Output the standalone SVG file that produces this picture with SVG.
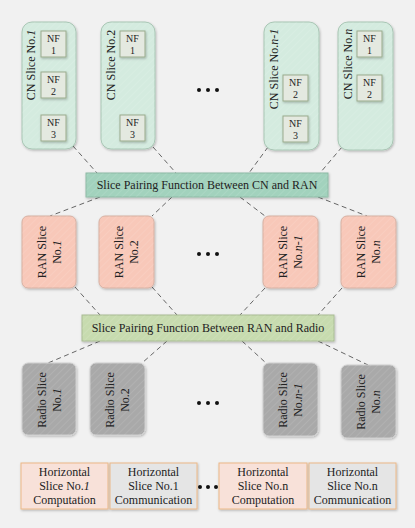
<svg xmlns="http://www.w3.org/2000/svg" width="415" height="528" viewBox="0 0 415 528">
<defs>
<pattern id="hatch" width="5" height="5" patternUnits="userSpaceOnUse" patternTransform="rotate(45)">
<line x1="0" y1="0" x2="0" y2="5" stroke="#ffffff" stroke-width="1" stroke-opacity="0.18"/>
</pattern>
<filter id="sh" x="-20%" y="-20%" width="140%" height="140%">
<feDropShadow dx="0.8" dy="1.2" stdDeviation="0.8" flood-color="#000" flood-opacity="0.25"/>
</filter>
</defs>
<style>
text{font-family:"Liberation Serif","Times New Roman",serif;font-size:12px;fill:#222;text-anchor:middle}
.nft{font-size:10px}
.cn{fill:#d4ebdf;stroke:#a8c6b4;stroke-width:1}
.nf{fill:#e4e9e0;stroke:#9aab8d;stroke-width:1}
.ran{fill:#f8c8b9;stroke:#d6b0a2;stroke-width:1}
.rad{fill:#a9a9a9;stroke:#cfcfcf;stroke-width:1}
.pf1{fill:#a2d2bd;stroke:#8ebaa5;stroke-width:1}
.pf2{fill:#c7dbaf;stroke:#a9bc94;stroke-width:1}
.hc{fill:#f8e1d9;stroke:#ecb887;stroke-width:1}
.hm{fill:#e5e5e5;stroke:#ecb887;stroke-width:1}
.conn line{stroke:#666;stroke-width:1;stroke-dasharray:5,3.5}
.dot{fill:#111}
.it{font-style:italic}
</style>
<rect width="415" height="528" fill="#f1f1f1"/>

<g id="connectors" class="conn">
<line x1="73" y1="146" x2="97" y2="173"/>
<line x1="153" y1="147" x2="176" y2="173"/>
<line x1="268" y1="147" x2="249" y2="173"/>
<line x1="342" y1="147" x2="320" y2="173"/>
<line x1="100" y1="197" x2="50" y2="216"/>
<line x1="172" y1="197" x2="152" y2="216"/>
<line x1="240" y1="197" x2="265" y2="216"/>
<line x1="318" y1="197" x2="367" y2="216"/>
<line x1="75" y1="287" x2="100" y2="315"/>
<line x1="152" y1="287" x2="177" y2="315"/>
<line x1="265" y1="288" x2="240" y2="315"/>
<line x1="342" y1="288" x2="318" y2="315"/>
<line x1="100" y1="341" x2="48" y2="363"/>
<line x1="167" y1="341" x2="142" y2="363"/>
<line x1="242" y1="341" x2="266" y2="363"/>
<line x1="318" y1="341" x2="368" y2="365"/>
</g>

<g id="cn1">
<rect class="cn" x="22" y="22" width="54" height="127" rx="10" filter="url(#sh)"/>
<rect x="22" y="22" width="54" height="127" rx="10" fill="url(#hatch)"/>
<text transform="translate(35,65) rotate(-90)">CN Slice No.<tspan class="it">1</tspan></text>
<rect class="nf" x="41" y="31" width="25" height="26" filter="url(#sh)"/>
<text class="nft" x="53.5" y="42">NF</text><text class="nft" x="53.5" y="54">1</text>
<rect class="nf" x="41" y="72" width="25" height="26" filter="url(#sh)"/>
<text class="nft" x="53.5" y="83">NF</text><text class="nft" x="53.5" y="95">2</text>
<rect class="nf" x="41" y="115" width="25" height="26" filter="url(#sh)"/>
<text class="nft" x="53.5" y="126">NF</text><text class="nft" x="53.5" y="138">3</text>
</g>

<g id="cn2">
<rect class="cn" x="101" y="22" width="54" height="127" rx="10" filter="url(#sh)"/>
<rect x="101" y="22" width="54" height="127" rx="10" fill="url(#hatch)"/>
<text transform="translate(115,65) rotate(-90)">CN Slice No.2</text>
<rect class="nf" x="120" y="31" width="25" height="26" filter="url(#sh)"/>
<text class="nft" x="132.5" y="42">NF</text><text class="nft" x="132.5" y="54">1</text>
<rect class="nf" x="120" y="115" width="25" height="26" filter="url(#sh)"/>
<text class="nft" x="132.5" y="126">NF</text><text class="nft" x="132.5" y="138">3</text>
</g>

<g id="cn_dots">
<circle class="dot" cx="199" cy="90" r="2"/><circle class="dot" cx="208" cy="90" r="2"/><circle class="dot" cx="217" cy="90" r="2"/>
</g>

<g id="cnn1">
<rect class="cn" x="264" y="22" width="55" height="128" rx="10" filter="url(#sh)"/>
<rect x="264" y="22" width="55" height="128" rx="10" fill="url(#hatch)"/>
<text transform="translate(278,69) rotate(-90)">CN Slice No.<tspan class="it">n-1</tspan></text>
<rect class="nf" x="283" y="75" width="25" height="26" filter="url(#sh)"/>
<text class="nft" x="295.5" y="86">NF</text><text class="nft" x="295.5" y="98">2</text>
<rect class="nf" x="283" y="116" width="25" height="26" filter="url(#sh)"/>
<text class="nft" x="295.5" y="127">NF</text><text class="nft" x="295.5" y="139">3</text>
</g>

<g id="cnn">
<rect class="cn" x="338" y="22" width="55" height="128" rx="10" filter="url(#sh)"/>
<rect x="338" y="22" width="55" height="128" rx="10" fill="url(#hatch)"/>
<text transform="translate(352,64) rotate(-90)">CN Slice No.<tspan class="it">n</tspan></text>
<rect class="nf" x="357" y="31" width="25" height="26" filter="url(#sh)"/>
<text class="nft" x="369.5" y="42">NF</text><text class="nft" x="369.5" y="54">1</text>
<rect class="nf" x="357" y="75" width="25" height="26" filter="url(#sh)"/>
<text class="nft" x="369.5" y="86">NF</text><text class="nft" x="369.5" y="98">2</text>
</g>

<g id="pf_cn_ran">
<rect class="pf1" x="86" y="173" width="242" height="24" filter="url(#sh)"/>
<rect x="86" y="173" width="242" height="24" fill="url(#hatch)"/>
<text x="207" y="189">Slice Pairing Function Between CN and RAN</text>
</g>

<g id="ran1">
<rect class="ran" x="22" y="216" width="54" height="72" rx="6" filter="url(#sh)"/>
<rect x="22" y="216" width="54" height="72" rx="6" fill="url(#hatch)"/>
<text transform="translate(46,252) rotate(-90)">RAN Slice</text>
<text transform="translate(61,252) rotate(-90)">No.<tspan class="it">1</tspan></text>
</g>
<g id="ran2">
<rect class="ran" x="99" y="216" width="55" height="72" rx="6" filter="url(#sh)"/>
<rect x="99" y="216" width="55" height="72" rx="6" fill="url(#hatch)"/>
<text transform="translate(123,252) rotate(-90)">RAN Slice</text>
<text transform="translate(138,252) rotate(-90)">No.2</text>
</g>
<g id="ran_dots">
<circle class="dot" cx="199" cy="254" r="2"/><circle class="dot" cx="208" cy="254" r="2"/><circle class="dot" cx="217" cy="254" r="2"/>
</g>
<g id="rann1">
<rect class="ran" x="263" y="216" width="55" height="72" rx="6" filter="url(#sh)"/>
<rect x="263" y="216" width="55" height="72" rx="6" fill="url(#hatch)"/>
<text transform="translate(287,252) rotate(-90)">RAN Slice</text>
<text transform="translate(302,252) rotate(-90)">No.<tspan class="it">n-1</tspan></text>
</g>
<g id="rann">
<rect class="ran" x="341" y="216" width="55" height="72" rx="6" filter="url(#sh)"/>
<rect x="341" y="216" width="55" height="72" rx="6" fill="url(#hatch)"/>
<text transform="translate(365,252) rotate(-90)">RAN Slice</text>
<text transform="translate(380,252) rotate(-90)">No.<tspan class="it">n</tspan></text>
</g>

<g id="pf_ran_radio">
<rect class="pf2" x="82" y="315" width="252" height="26" filter="url(#sh)"/>
<rect x="82" y="315" width="252" height="26" fill="url(#hatch)"/>
<text x="208" y="332">Slice Pairing Function Between RAN and Radio</text>
</g>

<g id="radio1">
<rect class="rad" x="22" y="363" width="54" height="72" rx="6" filter="url(#sh)"/>
<rect x="22" y="363" width="54" height="72" rx="6" fill="url(#hatch)"/>
<text transform="translate(46,400) rotate(-90)">Radio Slice</text>
<text transform="translate(61,400) rotate(-90)">No.<tspan class="it">1</tspan></text>
</g>
<g id="radio2">
<rect class="rad" x="90" y="363" width="55" height="72" rx="6" filter="url(#sh)"/>
<rect x="90" y="363" width="55" height="72" rx="6" fill="url(#hatch)"/>
<text transform="translate(114,400) rotate(-90)">Radio Slice</text>
<text transform="translate(129,400) rotate(-90)">No.2</text>
</g>
<g id="radio_dots">
<circle class="dot" cx="199" cy="403" r="2"/><circle class="dot" cx="208" cy="403" r="2"/><circle class="dot" cx="217" cy="403" r="2"/>
</g>
<g id="radion1">
<rect class="rad" x="263" y="363" width="55" height="73" rx="6" filter="url(#sh)"/>
<rect x="263" y="363" width="55" height="73" rx="6" fill="url(#hatch)"/>
<text transform="translate(287,400) rotate(-90)">Radio Slice</text>
<text transform="translate(302,400) rotate(-90)">No.<tspan class="it">n-1</tspan></text>
</g>
<g id="radion">
<rect class="rad" x="341" y="365" width="55" height="73" rx="6" filter="url(#sh)"/>
<rect x="341" y="365" width="55" height="73" rx="6" fill="url(#hatch)"/>
<text transform="translate(365,402) rotate(-90)">Radio Slice</text>
<text transform="translate(380,402) rotate(-90)">No.<tspan class="it">n</tspan></text>
</g>

<g id="h1">
<rect class="hc" x="21" y="463" width="87" height="46" filter="url(#sh)"/>
<text x="64.5" y="476">Horizontal</text>
<text x="64.5" y="490">Slice No.<tspan class="it">1</tspan></text>
<text x="64.5" y="504">Computation</text>
</g>
<g id="h2">
<rect class="hm" x="110" y="463" width="87" height="46" filter="url(#sh)"/>
<text x="153.5" y="476">Horizontal</text>
<text x="153.5" y="490">Slice No.1</text>
<text x="153.5" y="504">Communication</text>
</g>
<g id="h_dots">
<circle class="dot" cx="200" cy="487" r="2"/><circle class="dot" cx="208" cy="487" r="2"/><circle class="dot" cx="216" cy="487" r="2"/>
</g>
<g id="h3">
<rect class="hc" x="219" y="463" width="88" height="46" filter="url(#sh)"/>
<text x="263" y="476">Horizontal</text>
<text x="263" y="490">Slice No.n</text>
<text x="263" y="504">Computation</text>
</g>
<g id="h4">
<rect class="hm" x="309" y="463" width="87" height="46" filter="url(#sh)"/>
<text x="352.5" y="476">Horizontal</text>
<text x="352.5" y="490">Slice No.n</text>
<text x="352.5" y="504">Communication</text>
</g>
</svg>
